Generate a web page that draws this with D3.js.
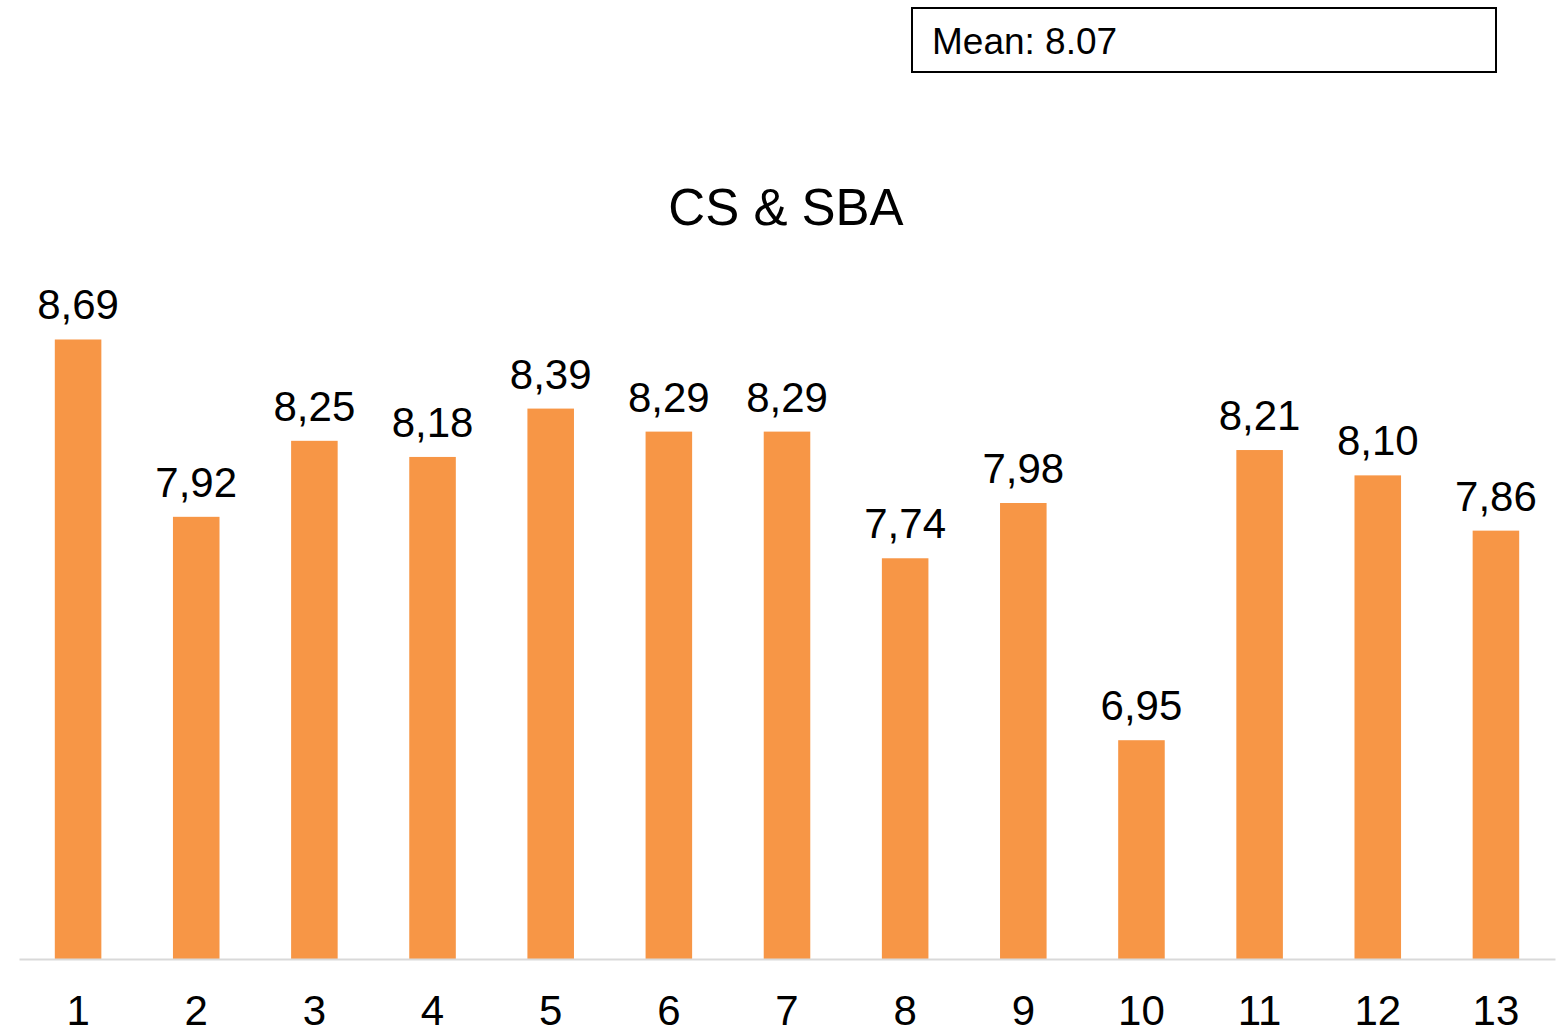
<!DOCTYPE html>
<html>
<head>
<meta charset="utf-8">
<script src="https://cdn.jsdelivr.net/npm/d3@7"></script>
<style>
  html, body { margin: 0; padding: 0; background: #fff; }
  svg { display: block; font-family: "Liberation Sans", Arial, sans-serif; }
</style>
</head>
<body>
<svg id="chart" width="1565" height="1026"></svg>
<script>
const categories = ["1","2","3","4","5","6","7","8","9","10","11","12","13"];
const values = [8.69, 7.92, 8.25, 8.18, 8.39, 8.29, 8.29, 7.74, 7.98, 6.95, 8.21, 8.10, 7.86];
const title = "CS & SBA";
const meanLabel = "Mean: ";

const svg = d3.select("#chart");
const baseY = 959;

const x = d3.scaleBand().domain(categories).range([19, 1555])
  .paddingInner(0.606).paddingOuter(0.303);
const y = d3.scaleLinear().domain([6, 9]).range([baseY, baseY - 3 * 230.3]);

const fmt = v => d3.format(".2f")(v).replace(".", ",");

// Title
svg.append("text")
  .attr("x", 786).attr("y", 225)
  .attr("text-anchor", "middle")
  .attr("font-size", 51)
  .attr("fill", "#000")
  .text(title);

// Mean box
const meanVal = d3.mean(values);
svg.append("rect")
  .attr("x", 912).attr("y", 8).attr("width", 584).attr("height", 64)
  .attr("fill", "#fff").attr("stroke", "#000").attr("stroke-width", 2);
svg.append("text")
  .attr("x", 932).attr("y", 54)
  .attr("font-size", 37)
  .attr("fill", "#000")
  .text(meanLabel + d3.format(".2f")(meanVal));

// Bars
const data = categories.map((c, i) => ({ c, v: values[i] }));
svg.append("g").selectAll("rect").data(data).join("rect")
  .attr("x", d => x(d.c))
  .attr("y", d => y(d.v))
  .attr("width", x.bandwidth())
  .attr("height", d => baseY - y(d.v))
  .attr("fill", "#F79646");

// Value labels
svg.append("g").selectAll("text").data(data).join("text")
  .attr("x", d => x(d.c) + x.bandwidth() / 2)
  .attr("y", d => y(d.v) - 20)
  .attr("text-anchor", "middle")
  .attr("font-size", 42)
  .attr("fill", "#000")
  .text(d => fmt(d.v));

// X axis
const xAxis = d3.axisBottom(x).tickSize(0).tickPadding(0);
const gx = svg.append("g").attr("transform", `translate(0,${baseY})`).call(xAxis);
gx.select(".domain").attr("stroke", "#D9D9D9").attr("stroke-width", 2);
gx.selectAll(".tick text")
  .attr("font-size", 42)
  .attr("font-family", "'Liberation Sans', Arial, sans-serif")
  .attr("fill", "#000")
  .attr("dy", null)
  .attr("y", 66);
</script>
</body>
</html>
